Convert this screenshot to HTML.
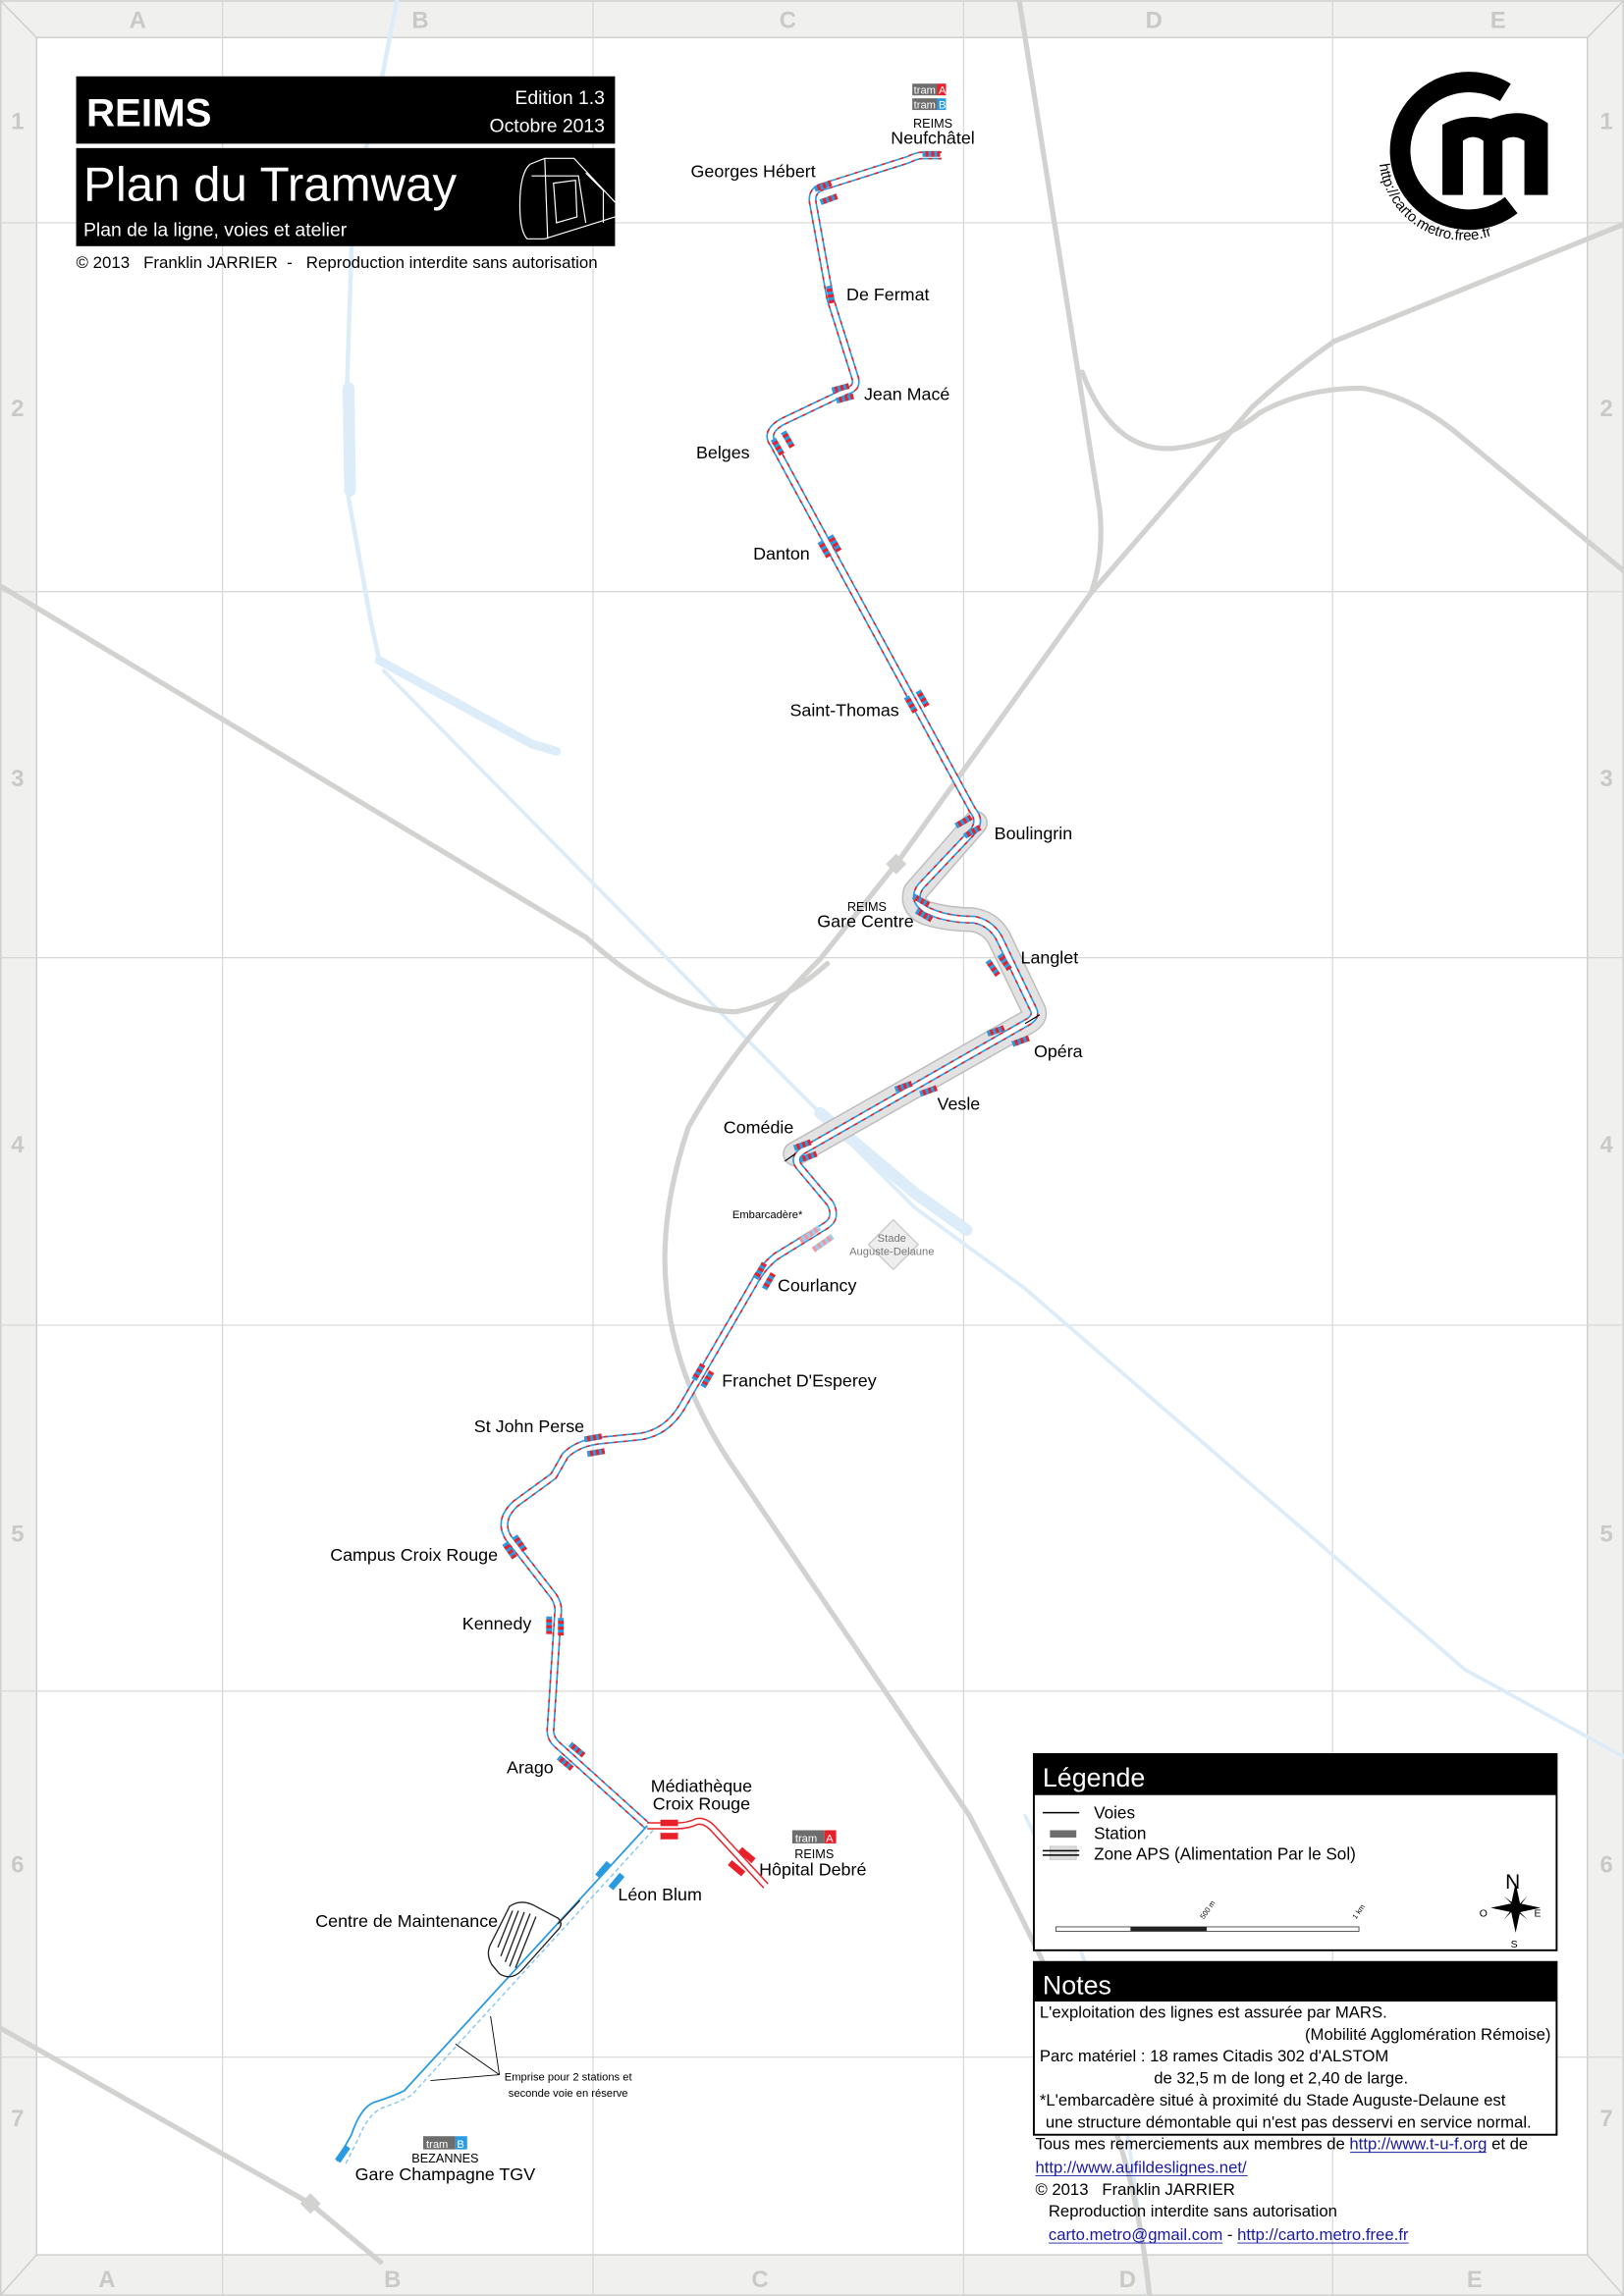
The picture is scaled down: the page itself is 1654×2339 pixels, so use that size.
<!DOCTYPE html>
<html><head><meta charset="utf-8">
<style>
html,body{margin:0;padding:0;background:#fff}
svg{display:block}
text{font-family:"Liberation Sans",Arial,sans-serif}
</style></head>
<body>
<svg width="1654" height="2339" viewBox="0 0 1109 1568" xmlns="http://www.w3.org/2000/svg">
<defs>
<pattern id="st" width="4" height="4" patternUnits="userSpaceOnUse"><rect width="4" height="4" fill="#2a9be0"/><rect width="2" height="4" fill="#e8202a"/></pattern>
<pattern id="stl" width="4" height="4" patternUnits="userSpaceOnUse"><rect width="4" height="4" fill="#9ccdf0"/><rect width="2" height="4" fill="#f0959a"/></pattern>
<path id="trk" d="M643,106 L630,106 Q626,106 620,109 L560,128 Q554,131 555,138 L567,204 L584,258 Q586,265 578,267 L534,288 Q522,295 528,303 L664,553 Q670,560 665,567 L629,605 Q622,614 632,621 Q645,628 665,628 Q676,630 682,640 L706,690 Q708,695 700,699 L548,786 Q541,791 546,797 L567,822 Q572,832 564,837 L530,858 Q520,866 515,876 L465,962 Q455,978 438,981 L408,984 Q394,986 386,994 L378,1008 L352,1027 Q340,1038 347,1050 L378,1090 Q382,1096 381,1102 L376,1180 Q375,1187 381,1192 L442,1247"/>
<path id="aps" d="M666,562 L625,609 Q622,620 634,624 Q648,628 664,628 Q676,630 682,640 L706,690 Q708,695 700,699 L543,788"/>
<path id="rb" d="M442,1247 L462,1247 Q470,1247 476,1244 Q482,1243 488,1250 L523,1288"/>
</defs>
<!-- frame -->
<rect x="0" y="0" width="1109" height="1568" fill="#f0f1ef"/>
<rect x="25" y="25.5" width="1059" height="1514.5" fill="#fff" stroke="#cfd0ce" stroke-width="1"/>
<g stroke="#cfd0ce" stroke-width="1">
<line x1="0" y1="0" x2="25" y2="25.5"/><line x1="1109" y1="0" x2="1084" y2="25.5"/>
<line x1="0" y1="1568" x2="25" y2="1540"/><line x1="1109" y1="1568" x2="1084" y2="1540"/>
<rect x="0.5" y="0.5" width="1108" height="1567" fill="none"/>
</g>
<!-- grid -->
<g stroke="#d6d6d6" stroke-width="0.8">
<line x1="152" y1="0" x2="152" y2="1568"/><line x1="405" y1="0" x2="405" y2="1568"/>
<line x1="658" y1="0" x2="658" y2="1568"/><line x1="910" y1="0" x2="910" y2="1568"/>
<line x1="0" y1="152" x2="1109" y2="152"/><line x1="0" y1="404" x2="1109" y2="404"/>
<line x1="0" y1="654" x2="1109" y2="654"/><line x1="0" y1="905" x2="1109" y2="905"/>
<line x1="0" y1="1155" x2="1109" y2="1155"/><line x1="0" y1="1405" x2="1109" y2="1405"/>
</g>
<g fill="#c9cac8" font-weight="bold" font-size="16" text-anchor="middle">
<text x="94" y="19">A</text><text x="287" y="19">B</text><text x="538" y="19">C</text><text x="788" y="19">D</text><text x="1023" y="19">E</text>
<text x="73" y="1562">A</text><text x="268" y="1562">B</text><text x="519" y="1562">C</text><text x="770" y="1562">D</text><text x="1007" y="1562">E</text>
<text x="12" y="88">1</text><text x="12" y="284">2</text><text x="12" y="537">3</text><text x="12" y="787">4</text><text x="12" y="1053">5</text><text x="12" y="1279">6</text><text x="12" y="1452">7</text>
<text x="1097" y="88">1</text><text x="1097" y="284">2</text><text x="1097" y="537">3</text><text x="1097" y="787">4</text><text x="1097" y="1053">5</text><text x="1097" y="1279">6</text><text x="1097" y="1452">7</text>
</g>
<!-- rivers -->
<g fill="none" stroke="#dcecf8" stroke-linecap="round" stroke-linejoin="round">
<path d="M271,0 L262,47 L241,141 L237,262 L238,340 L253,423 L259,451" stroke-width="3"/>
<path d="M238,265 L239,335" stroke-width="8"/>
<path d="M259,451 L363,508 L380,513" stroke-width="6"/>
<path d="M262,458 L537,737 L625,825 L700,880 L850,1010 L1000,1140 L1109,1200" stroke-width="2.5"/>
<path d="M560,760 L625,815 L660,840" stroke-width="8"/>
<path d="M700,1240 Q730,1300 760,1400 Q775,1480 784,1568" stroke-width="2.5"/>
</g>
<!-- railways -->
<g fill="none" stroke="#d2d2d1" stroke-width="3.5" stroke-linecap="round" stroke-linejoin="round">
<path d="M696,0 L751,348 Q754,380 745,405 L612,590 L560,655 Q500,715 470,770 Q450,830 455,880 Q460,940 498,998 L662,1240 Q730,1370 760,1450 Q778,1500 785,1568"/>
<path d="M0,400 L400,640 Q455,690 502,691 Q535,685 565,658"/>
<path d="M1109,153 L911,233 Q880,255 855,278 L745,405"/>
<path d="M739,254 Q760,310 803,306 Q835,302 860,282 Q890,265 930,265 Q965,270 1000,300 L1109,390"/>
<path d="M0,1385 L212,1505 L260,1545"/>
</g>
<rect x="607" y="585" width="10" height="10" fill="#d2d2d1" transform="rotate(45 612 590)"/>
<rect x="207" y="1500" width="10" height="10" fill="#d2d2d1" transform="rotate(45 212 1505)"/>
<!-- Stade -->
<rect x="598" y="838" width="24" height="24" fill="#eee" stroke="#ccc" transform="rotate(45 610 850)"/>
<text x="609" y="848" font-size="7.5" fill="#777" text-anchor="middle">Stade</text>
<text x="609" y="857" font-size="7.5" fill="#777" text-anchor="middle">Auguste-Delaune</text>
<!-- APS zone + tracks -->
<g fill="none" stroke-linejoin="round" stroke-linecap="butt">
<use href="#aps" stroke="#bdbdbd" stroke-width="17" stroke-linecap="round"/>
<use href="#aps" stroke="#e2e2e2" stroke-width="15" stroke-linecap="round"/>
<use href="#trk" stroke="#2a9be0" stroke-width="5.5"/>
<use href="#trk" stroke="#e8202a" stroke-width="5.5" stroke-dasharray="2.5 4"/>
<use href="#trk" stroke="#fff" stroke-width="3.3"/>
<use href="#rb" stroke="#e8202a" stroke-width="5"/>
<use href="#rb" stroke="#fff" stroke-width="3"/>
<path d="M442,1247 L276,1428 Q268,1432 255,1436 Q246,1440 240,1458 L230,1476" stroke="#2a9be0" stroke-width="1.2"/>
<path d="M446,1250 L281,1431 Q272,1436 260,1440 Q251,1445 245,1460 L236,1478" stroke="#8cc8ef" stroke-width="1" stroke-dasharray="3 2"/>
<path d="M700,699 L710,693 M543,788 L536,793" stroke="#000" stroke-width="0.8"/>
</g>
<!-- depot -->
<g fill="none" stroke="#222" stroke-width="0.9">
<path d="M348,1302 Q355,1297 364,1301 L381,1310 Q385,1314 381,1318 L356,1346 Q349,1353 341,1348 L336,1342 Q331,1334 336,1326 Z"/>
<path d="M350,1305 L340,1330 M354,1305 L342,1336 M358,1306 L345,1340 M362,1307 L348,1343 M366,1309 L352,1344"/>
<path d="M381,1314 L396,1298"/>
</g>
<!-- stations -->
<g stroke="none">
<rect x="-6" y="-2" width="12" height="4" fill="url(#st)" transform="translate(636,105)"/>
<rect x="-6" y="-2" width="12" height="4" fill="url(#st)" transform="translate(562,127) rotate(-20)"/>
<rect x="-6" y="-2" width="12" height="4" fill="url(#st)" transform="translate(566,136) rotate(-20)"/>
<rect x="-6" y="-2" width="12" height="4" fill="url(#st)" transform="translate(567,201) rotate(80)"/>
<rect x="-6" y="-2" width="12" height="4" fill="url(#st)" transform="translate(574,265) rotate(-15)"/>
<rect x="-6" y="-2" width="12" height="4" fill="url(#st)" transform="translate(577,272) rotate(-15)"/>
<rect x="-6" y="-2" width="12" height="4" fill="url(#st)" transform="translate(531,305) rotate(60)"/>
<rect x="-6" y="-2" width="12" height="4" fill="url(#st)" transform="translate(538,300) rotate(60)"/>
<rect x="-6" y="-2" width="12" height="4" fill="url(#st)" transform="translate(563,375) rotate(60)"/>
<rect x="-6" y="-2" width="12" height="4" fill="url(#st)" transform="translate(570,371) rotate(60)"/>
<rect x="-6" y="-2" width="12" height="4" fill="url(#st)" transform="translate(622,481) rotate(60)"/>
<rect x="-6" y="-2" width="12" height="4" fill="url(#st)" transform="translate(630,477) rotate(60)"/>
<rect x="-6" y="-2" width="12" height="4" fill="url(#st)" transform="translate(658,561) rotate(-30)"/>
<rect x="-6" y="-2" width="12" height="4" fill="url(#st)" transform="translate(664,568) rotate(-30)"/>
<rect x="-6" y="-2" width="12" height="4" fill="url(#st)" transform="translate(629,615) rotate(30)"/>
<rect x="-6" y="-2" width="12" height="4" fill="url(#st)" transform="translate(631,625) rotate(30)"/>
<rect x="-6" y="-2" width="12" height="4" fill="url(#st)" transform="translate(678,661) rotate(55)"/>
<rect x="-6" y="-2" width="12" height="4" fill="url(#st)" transform="translate(686,657) rotate(55)"/>
<rect x="-6" y="-2" width="12" height="4" fill="url(#st)" transform="translate(680,704) rotate(-20)"/>
<rect x="-6" y="-2" width="12" height="4" fill="url(#st)" transform="translate(697,711) rotate(-20)"/>
<rect x="-6" y="-2" width="12" height="4" fill="url(#st)" transform="translate(617,742) rotate(-20)"/>
<rect x="-6" y="-2" width="12" height="4" fill="url(#st)" transform="translate(634,745) rotate(-20)"/>
<rect x="-6" y="-2" width="12" height="4" fill="url(#st)" transform="translate(548,782) rotate(-20)"/>
<rect x="-6" y="-2" width="12" height="4" fill="url(#st)" transform="translate(552,790) rotate(-20)"/>
<rect x="-8" y="-2" width="16" height="4" fill="url(#stl)" transform="translate(553,843) rotate(-35)"/>
<rect x="-8" y="-2" width="16" height="4" fill="url(#stl)" transform="translate(562,849) rotate(-35)"/>
<rect x="-6" y="-2" width="12" height="4" fill="url(#st)" transform="translate(519,868) rotate(-60)"/>
<rect x="-6" y="-2" width="12" height="4" fill="url(#st)" transform="translate(525,875) rotate(-60)"/>
<rect x="-6" y="-2" width="12" height="4" fill="url(#st)" transform="translate(477,937) rotate(-60)"/>
<rect x="-6" y="-2" width="12" height="4" fill="url(#st)" transform="translate(483,942) rotate(-60)"/>
<rect x="-6" y="-2" width="12" height="4" fill="url(#st)" transform="translate(405,982) rotate(-10)"/>
<rect x="-6" y="-2" width="12" height="4" fill="url(#st)" transform="translate(407,992) rotate(-10)"/>
<rect x="-6" y="-2" width="12" height="4" fill="url(#st)" transform="translate(348,1059) rotate(55)"/>
<rect x="-6" y="-2" width="12" height="4" fill="url(#st)" transform="translate(355,1054) rotate(55)"/>
<rect x="-6" y="-2" width="12" height="4" fill="url(#st)" transform="translate(375,1110) rotate(90)"/>
<rect x="-6" y="-2" width="12" height="4" fill="url(#st)" transform="translate(383,1111) rotate(90)"/>
<rect x="-6" y="-2" width="12" height="4" fill="url(#st)" transform="translate(386,1204) rotate(40)"/>
<rect x="-6" y="-2" width="12" height="4" fill="url(#st)" transform="translate(394,1195) rotate(40)"/>
<rect x="-6" y="-2.2" width="12" height="4.4" fill="#e8202a" transform="translate(457,1245)"/>
<rect x="-6" y="-2.2" width="12" height="4.4" fill="#e8202a" transform="translate(457,1254)"/>
<rect x="-6" y="-2.2" width="12" height="4.4" fill="#e8202a" transform="translate(503,1276) rotate(40)"/>
<rect x="-6" y="-2.2" width="12" height="4.4" fill="#e8202a" transform="translate(510,1267) rotate(40)"/>
<rect x="-6" y="-2.2" width="12" height="4.4" fill="#2a9be0" transform="translate(412,1277) rotate(-50)"/>
<rect x="-6" y="-2.2" width="12" height="4.4" fill="#2a9be0" transform="translate(421,1285) rotate(-50)"/>
<rect x="-6" y="-2.2" width="12" height="4.4" fill="#2a9be0" transform="translate(234,1471) rotate(-55)"/>
</g>
<!-- labels -->
<g font-size="12" fill="#000">
<text x="557" y="121" text-anchor="end">Georges Hébert</text>
<text x="578" y="205">De Fermat</text>
<text x="590" y="273">Jean Macé</text>
<text x="512" y="313" text-anchor="end">Belges</text>
<text x="553" y="382" text-anchor="end">Danton</text>
<text x="614" y="489" text-anchor="end">Saint-Thomas</text>
<text x="679" y="573">Boulingrin</text>
<text x="624" y="633" text-anchor="end">Gare Centre</text>
<text x="697" y="658">Langlet</text>
<text x="706" y="722">Opéra</text>
<text x="640" y="758">Vesle</text>
<text x="542" y="774" text-anchor="end">Comédie</text>
<text x="531" y="882">Courlancy</text>
<text x="493" y="947">Franchet D'Esperey</text>
<text x="399" y="978" text-anchor="end">St John Perse</text>
<text x="340" y="1066" text-anchor="end">Campus Croix Rouge</text>
<text x="363" y="1113" text-anchor="end">Kennedy</text>
<text x="378" y="1211" text-anchor="end">Arago</text>
<text x="479" y="1224" text-anchor="middle">Médiathèque</text>
<text x="479" y="1236" text-anchor="middle">Croix Rouge</text>
<text x="555" y="1281" text-anchor="middle">Hôpital Debré</text>
<text x="422" y="1298">Léon Blum</text>
<text x="340" y="1316" text-anchor="end">Centre de Maintenance</text>
<text x="304" y="1489" text-anchor="middle">Gare Champagne TGV</text>
<text x="637" y="98" text-anchor="middle">Neufchâtel</text>
</g>
<g font-size="8.5" fill="#000" text-anchor="middle">
<text x="637" y="87">REIMS</text>
<text x="592" y="622">REIMS</text>
<text x="556" y="1269">REIMS</text>
<text x="304" y="1477">BEZANNES</text>
</g>
<text x="548" y="832" font-size="7.5" text-anchor="end">Embarcadère*</text>
<g font-size="7.5" text-anchor="middle"><text x="388" y="1421">Emprise pour 2 stations et</text><text x="388" y="1432">seconde voie en réserve</text></g>
<g stroke="#000" stroke-width="0.6" fill="none"><path d="M341,1417 L311,1396 M341,1417 L335,1377 M341,1417 L294,1421"/></g>
<!-- tram badges -->
<g font-size="7.5">
<rect x="623" y="57" width="17" height="8" fill="#6d6d6d"/><rect x="640" y="57" width="6" height="8" fill="#e8202a"/>
<text x="624" y="64" fill="#fff">tram</text><text x="641" y="64" fill="#fff">A</text>
<rect x="623" y="67" width="17" height="8" fill="#6d6d6d"/><rect x="640" y="67" width="6" height="8" fill="#2a9be0"/>
<text x="624" y="74" fill="#fff">tram</text><text x="641" y="74" fill="#fff">B</text>
<rect x="541" y="1250" width="22" height="9" fill="#6d6d6d"/><rect x="563" y="1250" width="8" height="9" fill="#e8202a"/>
<text x="543" y="1258" fill="#fff">tram</text><text x="564" y="1258" fill="#fff">A</text>
<rect x="289" y="1459" width="22" height="9" fill="#6d6d6d"/><rect x="311" y="1459" width="8" height="9" fill="#2a9be0"/>
<text x="291" y="1467" fill="#fff">tram</text><text x="312" y="1467" fill="#fff">B</text>
</g>
<!-- header -->
<rect x="52" y="52" width="368" height="46" fill="#000"/>
<text x="59" y="86" font-size="27" font-weight="bold" fill="#fff">REIMS</text>
<text x="413" y="71" font-size="13" fill="#fff" text-anchor="end">Edition 1.3</text>
<text x="413" y="90" font-size="13" fill="#fff" text-anchor="end">Octobre 2013</text>
<rect x="52" y="101" width="368" height="67" fill="#000"/>
<text x="57" y="137" font-size="33" fill="#fff">Plan du Tramway</text>
<text x="57" y="161" font-size="13" fill="#fff">Plan de la ligne, voies et atelier</text>
<g fill="none" stroke="#fff" stroke-width="0.8">
<path d="M362,112 L372,108 L392,108 L420,138 M362,112 Q355,118 355,140 Q355,158 360,163 L372,163 L420,148 M372,108 L374,163 M363,120 L395,120 L400,152 M400,118 L412,130 L412,152 M378,125 L393,123 L394,148 L380,152 Z"/>
</g>
<text x="52" y="183" font-size="11.3" xml:space="preserve">© 2013   Franklin JARRIER  -   Reproduction interdite sans autorisation</text>
<!-- logo -->
<path d="M1028,63 A47,47 0 1 0 1032,140" fill="none" stroke="#000" stroke-width="14"/>
<path d="M985,133 L985,85 Q1000,77 1018,81 Q1040,72 1057,84 L1057,133 L1041,133 L1041,96 Q1033,91 1026,96 L1026,133 L1013,133 L1013,96 Q1006,91 999,96 L999,133 Z" fill="#000"/>
<path id="arc" d="M942,112 A58,58 0 0 0 1048,138" fill="none"/>
<text font-size="10" fill="#000"><textPath href="#arc">http://carto.metro.free.fr</textPath></text>
<!-- legend -->
<rect x="706" y="1198" width="357" height="134" fill="#fff" stroke="#000" stroke-width="1.3"/>
<rect x="706" y="1198" width="357" height="28" fill="#000"/>
<text x="712" y="1220" font-size="18" fill="#fff">Légende</text>
<line x1="712" y1="1238" x2="737" y2="1238" stroke="#000" stroke-width="1"/>
<rect x="717" y="1250" width="18" height="5" fill="#6d6d6d"/>
<rect x="717" y="1261" width="18" height="9" fill="#ddd" stroke="#bbb" stroke-width="0.5"/>
<line x1="712" y1="1264" x2="737" y2="1264" stroke="#000" stroke-width="1"/>
<line x1="712" y1="1267" x2="737" y2="1267" stroke="#000" stroke-width="1"/>
<g font-size="11.5"><text x="747" y="1242">Voies</text><text x="747" y="1256">Station</text><text x="747" y="1270">Zone APS (Alimentation Par le Sol)</text></g>
<rect x="721" y="1316" width="207" height="3" fill="#fff" stroke="#444" stroke-width="0.6"/>
<rect x="772" y="1316" width="52" height="3" fill="#222"/>
<text x="822" y="1311" font-size="5" transform="rotate(-55 822 1311)">500 m</text>
<text x="926" y="1311" font-size="5" transform="rotate(-55 926 1311)">1 km</text>
<g transform="translate(1035,1303)" fill="#000">
<polygon points="0,-17 3,-3 17,0 3,3 0,17 -3,3 -17,0 -3,-3"/>
<polygon points="-8,-8 1,-1 8,-8 1,1 8,8 -1,1 -8,8 -1,-1" />
</g>
<text x="1033" y="1290" font-size="14" text-anchor="middle">N</text>
<text x="1013" y="1309" font-size="7" text-anchor="middle">O</text>
<text x="1050" y="1309" font-size="7" text-anchor="middle">E</text>
<text x="1034" y="1330" font-size="7" text-anchor="middle">S</text>
<!-- notes -->
<rect x="706" y="1340" width="357" height="118" fill="#fff" stroke="#000" stroke-width="1.3"/>
<rect x="706" y="1340" width="357" height="27" fill="#000"/>
<text x="712" y="1362" font-size="18" fill="#fff">Notes</text>
<g font-size="11.2">
<text x="710" y="1378">L'exploitation des lignes est assurée par MARS.</text>
<text x="1059" y="1393" text-anchor="end">(Mobilité Agglomération Rémoise)</text>
<text x="710" y="1408">Parc matériel : 18 rames Citadis 302 d'ALSTOM</text>
<text x="788" y="1423">de 32,5 m de long et 2,40 de large.</text>
<text x="710" y="1438">*L'embarcadère situé à proximité du Stade Auguste-Delaune est</text>
<text x="714" y="1453">une structure démontable qui n'est pas desservi en service normal.</text>
<text x="707" y="1468">Tous mes remerciements aux membres de <tspan fill="#1a1aa0">http://www.t-u-f.org</tspan> et de</text>
<text x="707" y="1484" fill="#1a1aa0">http://www.aufildeslignes.net/</text>
<text x="707" y="1499" xml:space="preserve">© 2013   Franklin JARRIER</text>
<text x="716" y="1514">Reproduction interdite sans autorisation</text>
<text x="716" y="1530"><tspan fill="#1a1aa0">carto.metro@gmail.com</tspan> - <tspan fill="#1a1aa0">http://carto.metro.free.fr</tspan></text>
</g>
<g stroke="#1a1aa0" stroke-width="0.6">
<line x1="922" y1="1470" x2="1015" y2="1470"/><line x1="707" y1="1486" x2="852" y2="1486"/>
<line x1="716" y1="1532" x2="835" y2="1532"/><line x1="845" y1="1532" x2="962" y2="1532"/>
</g>
</svg>
</body></html>
